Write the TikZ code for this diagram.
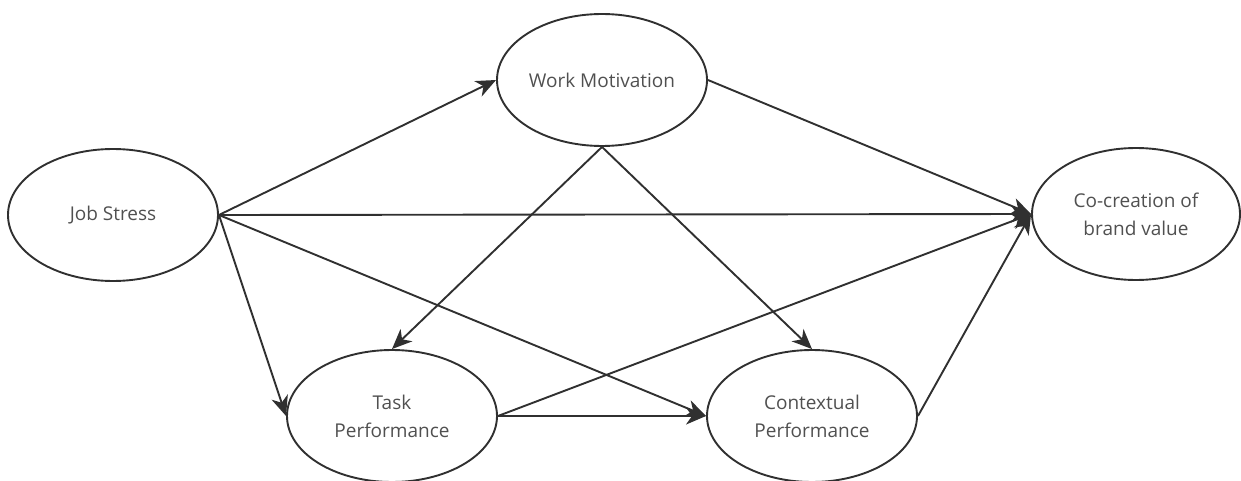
\documentclass[tikz,border=0pt]{standalone}
\usepackage{fontspec}
\setmainfont{Open Sans}
\usetikzlibrary{arrows.meta, shapes.geometric}
\definecolor{textgray}{HTML}{505050}
\definecolor{linegray}{HTML}{303030}

\begin{document}
\begin{tikzpicture}[x=1pt, y=1pt,
	var/.style={draw=linegray, ellipse, line width=1.9pt, minimum width=210pt,
		minimum height=132pt, inner sep=0pt, text=textgray, align=center,
		font=\fontsize{19}{28}\selectfont},
	link/.style={draw=linegray, line width=1.9pt,
		-{Stealth[length=20pt, width=17pt, inset=6pt]}}]
	\useasboundingbox (0,0) rectangle (1241,480);

	% constructs
	\node [var] (JS) at (113,265) {Job Stress};
	\node [var] (WM) at (602,400) {Work Motivation};
	\node [var, minimum width=208pt] (CB) at (1136,266) {Co-creation of\\brand value};
	\node [var] (TP) at (392,64) {Task\\Performance};
	\node [var] (CP) at (812,64) {Contextual\\Performance};

	% paths out of job stress
	\draw [link] (JS.east) -- (WM.west);
	\draw [link] (JS.east) -- (CB.west);
	\draw [link] (JS.east) -- (TP.west);
	\draw [link] (JS.east) -- (CP.west);

	% paths out of work motivation
	\draw [link] (WM.south) -- (TP.north);
	\draw [link] (WM.south) -- (CP.north);
	\draw [link] (WM.east) -- (CB.west);

	% paths out of the two performances
	\draw [link] (TP.east) -- (CP.west);
	\draw [link] (TP.east) -- (CB.west);
	\draw [link] (CP.east) -- (CB.west);

\end{tikzpicture}
\end{document}
